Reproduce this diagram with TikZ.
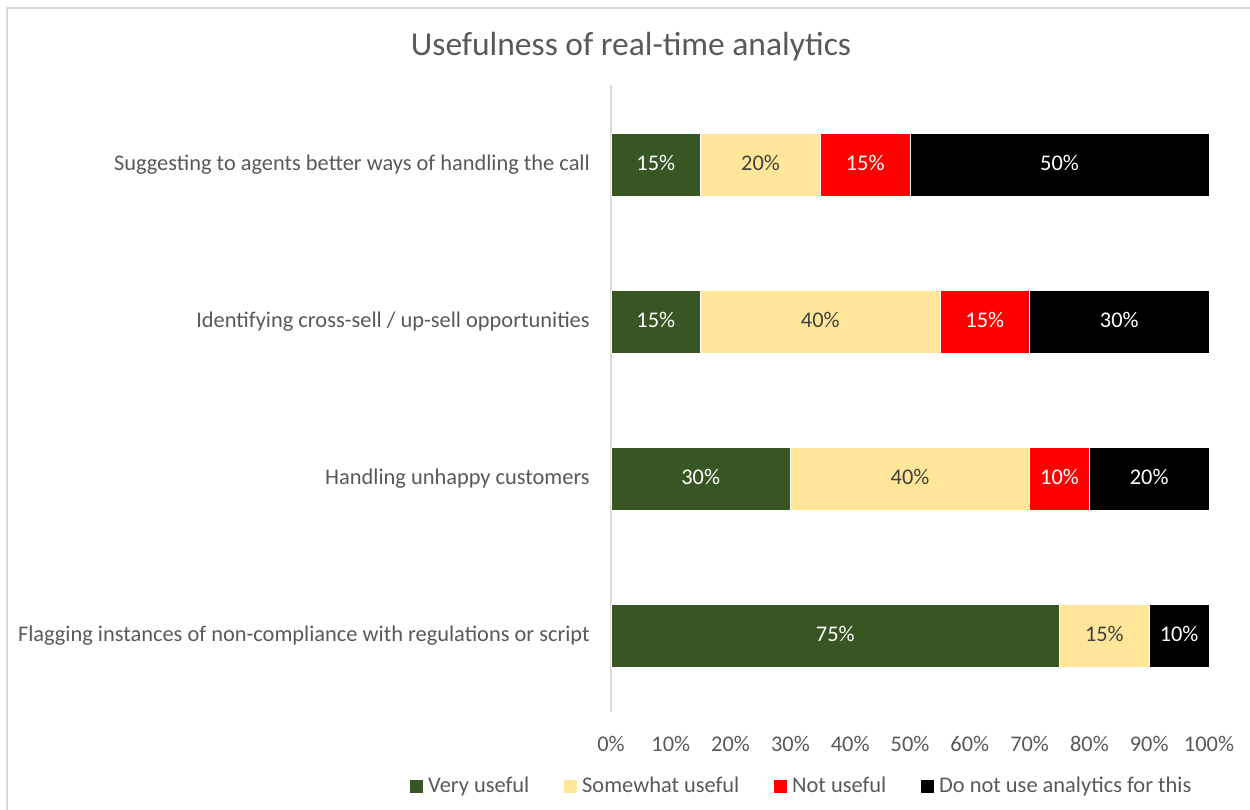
\documentclass[tikz,border=0pt]{standalone}
\usepackage{fontspec}
\setmainfont{Carlito}
\usepackage{xcolor}
\usepackage{tikz}
\usetikzlibrary{calc}
\definecolor{use-green}{RGB}{55, 86, 35}
\definecolor{use-yellow}{RGB}{255, 230, 153}
\definecolor{use-red}{RGB}{255, 0, 0}
\definecolor{use-black}{RGB}{0, 0, 0}
\definecolor{label-grey}{RGB}{89, 89, 89}
\definecolor{dark-grey}{RGB}{64, 64, 64}
\definecolor{axis-grey}{RGB}{217, 217, 217}

\tikzset{
  lbl/.style = {font=\fontsize{22.4bp}{27bp}\selectfont, text=label-grey, inner sep=0pt, text height=1.5ex, text depth=0.25ex, yshift=-3.5bp},
  inbar/.style = {lbl, text=white},
  inbar-dark/.style = {lbl, text=dark-grey},
  seg/.style = {draw=white, line width=0.6bp}
}

\begin{document}
\begin{tikzpicture}[x=1bp, y=-1bp]
          \useasboundingbox (0,0) rectangle (1250,810);
          \fill[white] (0,0) rectangle (1250,810);
          \draw[axis-grey, line width=2bp] (7,810) -- (7,8) -- (1250,8);

          \coordinate (axis-top) at (611, 85);
          \coordinate (axis-bottom) at (611, 712);
          \draw[axis-grey, line width=1.5bp] (axis-top) -- (axis-bottom);

          \node[font=\fontsize{33.5bp}{40bp}\selectfont, text=label-grey, yshift=-3bp] (title) at (631, 44) {Usefulness of real-time analytics};

          \node[lbl, anchor=east] (cat-1) at (590, 164.5) {Suggesting to agents better ways of handling the call};
          \node[lbl, anchor=east] (cat-2) at (590, 321.5) {Identifying cross-sell / up-sell opportunities};
          \node[lbl, anchor=east] (cat-3) at (590, 478.5) {Handling unhappy customers};
          \node[lbl, anchor=east] (cat-4) at (590, 635.5) {Flagging instances of non-compliance with regulations or script};

          \begin{scope}[shift={(611,0)}, x=5.98bp]
            \filldraw[seg, fill=use-green] (0, 133) rectangle (15, 196);
            \filldraw[seg, fill=use-yellow] (15, 133) rectangle (35, 196);
            \filldraw[seg, fill=use-red] (35, 133) rectangle (50, 196);
            \filldraw[seg, fill=use-black] (50, 133) rectangle (100, 196);
            \node[inbar] (b1-very) at (7.5, 164.5) {15\%};
            \node[inbar-dark] (b1-some) at (25, 164.5) {20\%};
            \node[inbar] (b1-not) at (42.5, 164.5) {15\%};
            \node[inbar] (b1-none) at (75, 164.5) {50\%};

            \filldraw[seg, fill=use-green] (0, 290) rectangle (15, 353);
            \filldraw[seg, fill=use-yellow] (15, 290) rectangle (55, 353);
            \filldraw[seg, fill=use-red] (55, 290) rectangle (70, 353);
            \filldraw[seg, fill=use-black] (70, 290) rectangle (100, 353);
            \node[inbar] (b2-very) at (7.5, 321.5) {15\%};
            \node[inbar-dark] (b2-some) at (35, 321.5) {40\%};
            \node[inbar] (b2-not) at (62.5, 321.5) {15\%};
            \node[inbar] (b2-none) at (85, 321.5) {30\%};

            \filldraw[seg, fill=use-green] (0, 447) rectangle (30, 510);
            \filldraw[seg, fill=use-yellow] (30, 447) rectangle (70, 510);
            \filldraw[seg, fill=use-red] (70, 447) rectangle (80, 510);
            \filldraw[seg, fill=use-black] (80, 447) rectangle (100, 510);
            \node[inbar] (b3-very) at (15, 478.5) {30\%};
            \node[inbar-dark] (b3-some) at (50, 478.5) {40\%};
            \node[inbar] (b3-not) at (75, 478.5) {10\%};
            \node[inbar] (b3-none) at (90, 478.5) {20\%};

            \filldraw[seg, fill=use-green] (0, 604) rectangle (75, 667);
            \filldraw[seg, fill=use-yellow] (75, 604) rectangle (90, 667);
            \filldraw[seg, fill=use-black] (90, 604) rectangle (100, 667);
            \node[inbar] (b4-very) at (37.5, 635.5) {75\%};
            \node[inbar-dark] (b4-some) at (82.5, 635.5) {15\%};
            \node[inbar] (b4-none) at (95, 635.5) {10\%};

            \foreach \p in {0, 10, ..., 100}
              \node[lbl] (tick-\p) at (\p, 745) {\p\%};
          \end{scope}

          \fill[use-green] (410, 780) rectangle (423, 793);
          \node[lbl, anchor=west] (key-very) at (428, 786.5) {Very useful};
          \fill[use-yellow] (564, 780) rectangle (577, 793);
          \node[lbl, anchor=west] (key-some) at (582, 786.5) {Somewhat useful};
          \fill[use-red] (774, 780) rectangle (787, 793);
          \node[lbl, anchor=west] (key-not) at (792, 786.5) {Not useful};
          \fill[use-black] (921, 780) rectangle (934, 793);
          \node[lbl, anchor=west] (key-none) at (939, 786.5) {Do not use analytics for this};
        \end{tikzpicture}
\end{document}
